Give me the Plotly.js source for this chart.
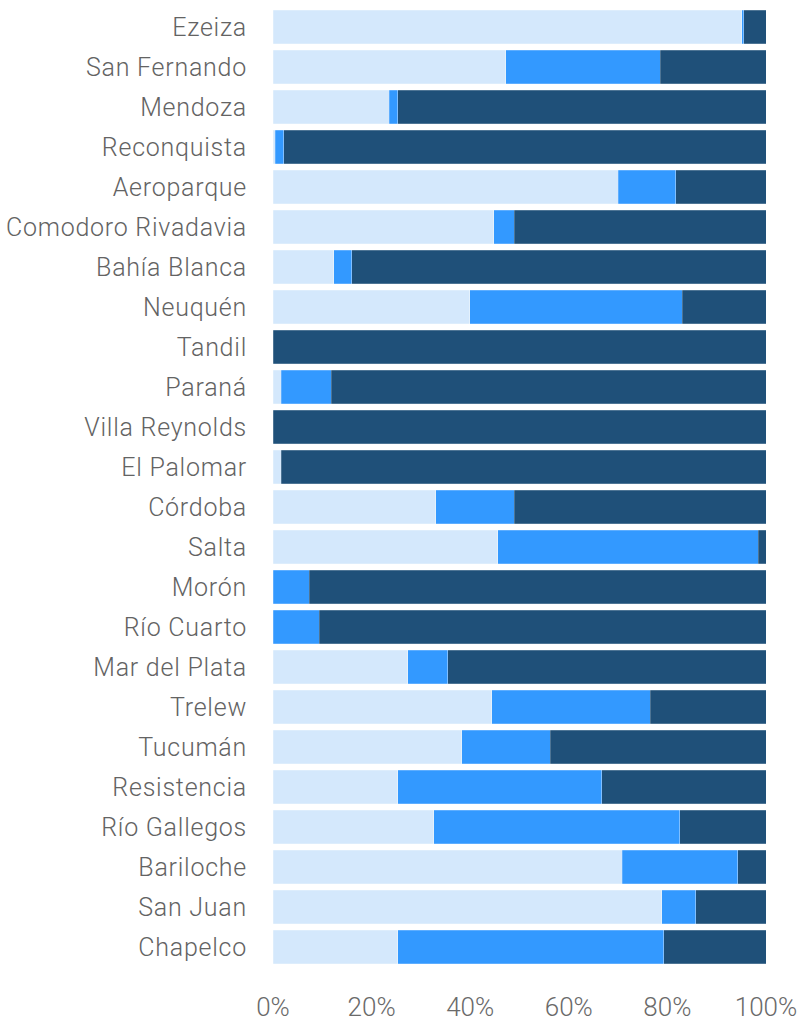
<!DOCTYPE html>
<html>
<head>
<meta charset="utf-8">
<script src="https://cdn.plot.ly/plotly-3.0.1.min.js"></script>
<style>
html,body{margin:0;padding:0;background:#fff;}
#chart{width:807px;height:1022px;}
#chart .ytick text{letter-spacing:0.75px;}
</style>
</head>
<body>
<div id="chart"></div>
<script>
var categories = ["Ezeiza","San Fernando","Mendoza","Reconquista","Aeroparque","Comodoro Rivadavia","Bahía Blanca","Neuquén","Tandil","Paraná","Villa Reynolds","El Palomar","Córdoba","Salta","Morón","Río Cuarto","Mar del Plata","Trelew","Tucumán","Resistencia","Río Gallegos","Bariloche","San Juan","Chapelco"];
var seriesLight = [95.1,47.2,23.6,0.5,70.0,44.8,12.3,39.9,0,1.7,0,1.7,33.0,45.6,0,0,27.3,44.4,38.3,25.3,32.6,70.8,78.9,25.3];
var seriesMid   = [0.4,31.3,1.7,1.7,11.7,4.1,3.7,43.1,0,10.1,0,0,15.9,52.8,7.4,9.4,8.1,32.1,17.9,41.4,49.9,23.5,6.9,54.0];
var seriesDark  = [4.5,21.5,74.7,97.8,18.3,51.1,84.0,17.0,100,88.2,100,98.3,51.1,1.6,92.6,90.6,64.6,23.5,43.8,33.3,17.5,5.7,14.2,20.7];
var tickVals = [0,20,40,60,80,100];
var tickText = ["0%","20%","40%","60%","80%","100%"];

function mk(vals, color){
  return {type:'bar', orientation:'h', x:vals, y:categories,
    marker:{color:color, line:{color:'rgba(255,255,255,0.35)', width:0.6}},
    hoverinfo:'x+y', showlegend:false};
}
var data = [mk(seriesLight,'#d4e8fc'), mk(seriesMid,'#3399ff'), mk(seriesDark,'#1f5079')];
var layout = {
  width:807, height:1022,
  margin:{l:273, r:41, t:7, b:55, pad:0},
  barmode:'stack', bargap:0.16,
  paper_bgcolor:'#ffffff', plot_bgcolor:'rgba(0,0,0,0)',
  font:{family:'Roboto, sans-serif', size:25, color:'#636363', weight:300},
  xaxis:{range:[0,100], tickvals:tickVals, ticktext:tickText, showgrid:false, zeroline:false, showline:false,
    ticks:'', ticklabelstandoff:22, tickfont:{size:26, color:'#6a6a6a', family:'Roboto, sans-serif', weight:300}, fixedrange:true},
  yaxis:{type:'category', autorange:'reversed', showgrid:false, zeroline:false, showline:false, ticks:'',
    ticklabelstandoff:25, tickfont:{size:25, color:'#636363', family:'Roboto, sans-serif', weight:300}, fixedrange:true}
};
Plotly.newPlot('chart', data, layout, {displayModeBar:false, staticPlot:true});
</script>
</body>
</html>
